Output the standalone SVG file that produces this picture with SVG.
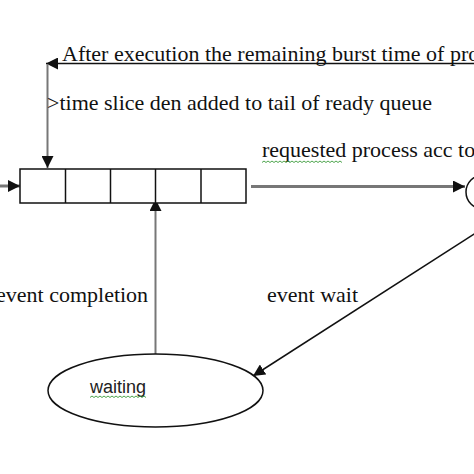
<svg xmlns="http://www.w3.org/2000/svg" width="474" height="474" viewBox="0 0 474 474">
<defs>
<style>
.t{font-family:"Liberation Serif","Times New Roman",serif;font-size:22px;fill:#111;}
.s{font-family:"Liberation Sans",Arial,sans-serif;font-size:18px;fill:#222;}
.g{stroke:#777;fill:none;}
.k{stroke:#111;fill:none;}
.box{fill:#fff;stroke:#111;stroke-width:1.5;}
.wavy{fill:none;stroke:#3a9a3a;stroke-width:0.9;}
</style>
<marker id="ahs" viewBox="0 0 10 10" refX="10" refY="5" markerWidth="12" markerHeight="12" markerUnits="userSpaceOnUse" orient="auto">
<path d="M0,0 L10,5 L0,10 z" fill="#111"/>
</marker>
</defs>
<rect width="474" height="474" fill="#fff"/>

<g id="connectors">
<line class="k" x1="474" y1="63.5" x2="46" y2="63.5" stroke-width="1.5" marker-end="url(#ahs)"/>
<line class="g" x1="47.5" y1="64" x2="47.5" y2="168" stroke-width="2" marker-end="url(#ahs)"/>
<line class="g" x1="0" y1="186" x2="20" y2="186" stroke-width="3" marker-end="url(#ahs)"/>
<line class="g" x1="251" y1="186.5" x2="465" y2="186.5" stroke-width="3" marker-end="url(#ahs)"/>
<line class="g" x1="155.5" y1="354" x2="155.5" y2="199" stroke-width="2" marker-end="url(#ahs)"/>
<line class="k" x1="478" y1="231.5" x2="253" y2="376" stroke-width="1.5" marker-end="url(#ahs)"/>
</g>

<g id="queue">
<rect class="box" x="20" y="169" width="226" height="34"/>
<line class="k" x1="65.5" y1="169" x2="65.5" y2="203" stroke-width="1.5"/>
<line class="k" x1="110.5" y1="169" x2="110.5" y2="203" stroke-width="1.5"/>
<line class="k" x1="155.5" y1="169" x2="155.5" y2="203" stroke-width="1.5"/>
<line class="k" x1="201" y1="169" x2="201" y2="203" stroke-width="1.5"/>
</g>

<g id="running">
<circle cx="483" cy="192" r="17" fill="#fff" stroke="#111" stroke-width="1.5"/>
</g>

<g id="waiting">
<ellipse cx="155.5" cy="390.5" rx="107.5" ry="36.5" fill="#fff" stroke="#111" stroke-width="1.5"/>
<text class="s" x="90" y="393" font-size="18.5">waiting</text>
<path class="wavy" d="M90,397.5 l2,-1.5 l2,1.5 l2,-1.5 l2,1.5 l2,-1.5 l2,1.5 l2,-1.5 l2,1.5 l2,-1.5 l2,1.5 l2,-1.5 l2,1.5 l2,-1.5 l2,1.5 l2,-1.5 l2,1.5 l2,-1.5 l2,1.5 l2,-1.5 l2,1.5 l2,-1.5 l2,1.5 l2,-1.5 l2,1.5 l2,-1.5 l2,1.5 l2,-1.5 l2,1.5"/>
</g>

<g id="labels">
<text class="t" x="62" y="61" font-size="22.4">After execution the remaining burst time of process</text>
<text class="t" x="47" y="110">&gt;time slice den added to tail of ready queue</text>
<text class="t" x="262" y="157">requested process acc to</text>
<path class="wavy" d="M262,162.5 l2,-1.5 l2,1.5 l2,-1.5 l2,1.5 l2,-1.5 l2,1.5 l2,-1.5 l2,1.5 l2,-1.5 l2,1.5 l2,-1.5 l2,1.5 l2,-1.5 l2,1.5 l2,-1.5 l2,1.5 l2,-1.5 l2,1.5 l2,-1.5 l2,1.5 l2,-1.5 l2,1.5 l2,-1.5 l2,1.5 l2,-1.5 l2,1.5 l2,-1.5 l2,1.5 l2,-1.5 l2,1.5 l2,-1.5 l2,1.5 l2,-1.5 l2,1.5 l2,-1.5 l2,1.5 l2,-1.5 l2,1.5 l2,-1.5 l2,1.5"/>
<text class="t" x="-4" y="302">event completion</text>
<text class="t" x="267" y="302">event wait</text>
</g>
</svg>
